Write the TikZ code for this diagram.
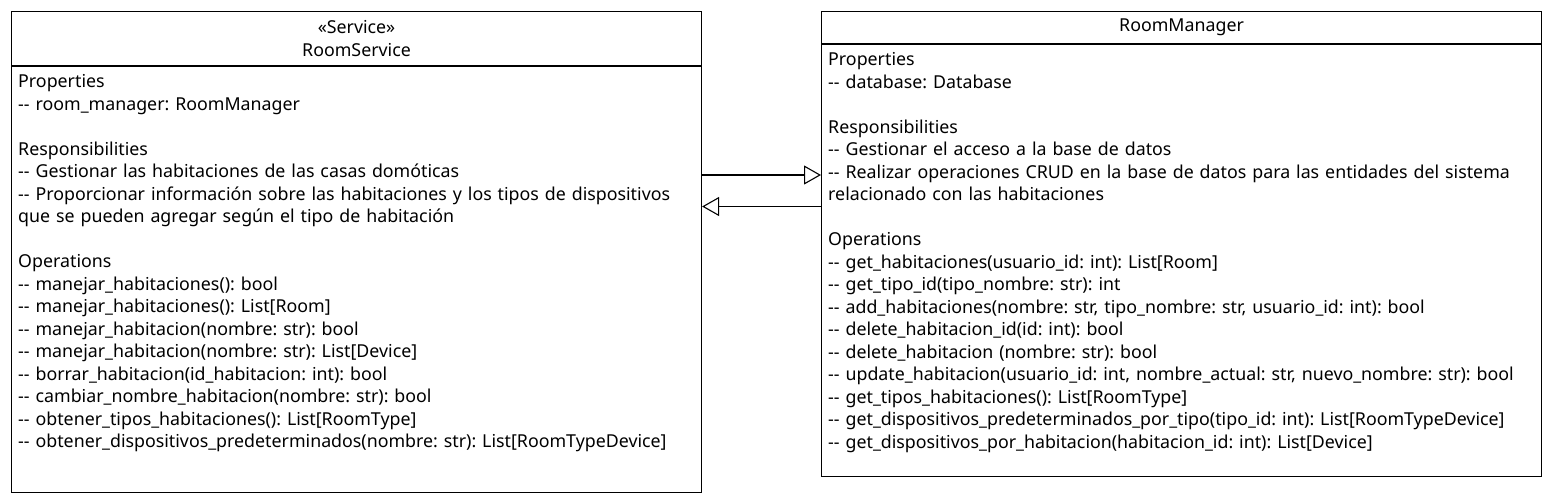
\documentclass[tikz,border=0pt]{standalone}
\usepackage{fontspec}
\setmainfont{Noto Sans}[Ligatures=TeXOff]
\usetikzlibrary{arrows.meta,positioning}
\frenchspacing

\begin{document}
\begin{tikzpicture}[x=1pt,y=-1pt]
  \tikzstyle{box}=[draw, line width=1.1pt, rectangle, inner sep=0pt, anchor=north west, font=\fontsize{17.8}{22.5}\selectfont, align=center]
  \tikzstyle{texto}=[anchor=base west, inner sep=0pt, align=left, font=\fontsize{17.8}{22.5}\selectfont]
  \tikzstyle{gen}=[-{Triangle[open, length=17pt, width=19pt]}, line width=1.1pt]

  \useasboundingbox (0,0) rectangle (1550,500);

  % Clase RoomService
  \node[box, minimum width=690pt, minimum height=54pt] (svcHead) at (11,11) {«Service»\\RoomService};
  \node[box, minimum width=690pt, minimum height=426pt] (svcBody) at (svcHead.south west) {};
  \node[texto, text width=680pt] (svcText) at (18,88) {Properties\\
    -- room\_manager: RoomManager\\[22.5pt]
    Responsibilities\\
    -- Gestionar las habitaciones de las casas domóticas\\
    -- Proporcionar información sobre las habitaciones y los tipos de dispositivos\\
    que se pueden agregar según el tipo de habitación\\[22.5pt]
    Operations\\
    -- manejar\_habitaciones(): bool\\
    -- manejar\_habitaciones(): List[Room]\\
    -- manejar\_habitacion(nombre: str): bool\\
    -- manejar\_habitacion(nombre: str): List[Device]\\
    -- borrar\_habitacion(id\_habitacion: int): bool\\
    -- cambiar\_nombre\_habitacion(nombre: str): bool\\
    -- obtener\_tipos\_habitaciones(): List[RoomType]\\
    -- obtener\_dispositivos\_predeterminados(nombre: str): List[RoomTypeDevice]};

  % Clase RoomManager
  \node[box, minimum width=720pt, minimum height=32pt] (mgrHead) at (821,11) {RoomManager};
  \node[box, minimum width=720pt, minimum height=432pt] (mgrBody) at (mgrHead.south west) {};
  \node[texto, text width=710pt] (mgrText) at (828,66) {Properties\\
    -- database: Database\\[22.5pt]
    Responsibilities\\
    -- Gestionar el acceso a la base de datos\\
    -- Realizar operaciones CRUD en la base de datos para las entidades del sistema\\
    relacionado con las habitaciones\\[22.5pt]
    Operations\\
    -- get\_habitaciones(usuario\_id: int): List[Room]\\
    -- get\_tipo\_id(tipo\_nombre: str): int\\
    -- add\_habitaciones(nombre: str, tipo\_nombre: str, usuario\_id: int): bool\\
    -- delete\_habitacion\_id(id: int): bool\\
    -- delete\_habitacion (nombre: str): bool\\
    -- update\_habitacion(usuario\_id: int, nombre\_actual: str, nuevo\_nombre: str): bool\\
    -- get\_tipos\_habitaciones(): List[RoomType]\\
    -- get\_dispositivos\_predeterminados\_por\_tipo(tipo\_id: int): List[RoomTypeDevice]\\
    -- get\_dispositivos\_por\_habitacion(habitacion\_id: int): List[Device]};

  % Relaciones
  \coordinate (ida) at (0,175);
  \coordinate (vuelta) at (0,206.5);
  \draw[gen] (svcBody.east |- ida) -- (mgrBody.west |- ida);
  \draw[gen] (mgrBody.west |- vuelta) -- (svcBody.east |- vuelta);
\end{tikzpicture}
\end{document}
